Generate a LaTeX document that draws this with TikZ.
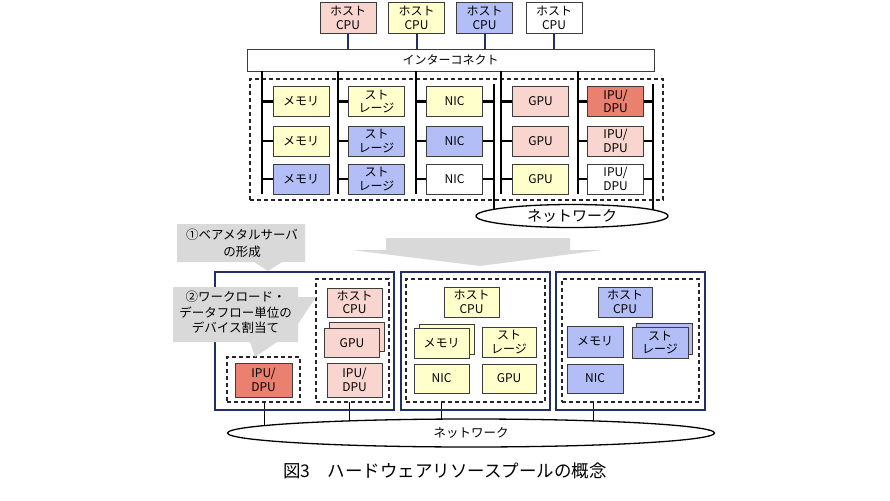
\documentclass[tikz,border=0pt]{standalone}
\usepackage{fontspec}
\setmainfont{Noto Sans CJK JP}
\usetikzlibrary{shapes.geometric,backgrounds}
\definecolor{cpink}{RGB}{248,213,207}
\definecolor{cyel}{RGB}{255,255,204}
\definecolor{cblue}{RGB}{178,190,245}
\definecolor{csalm}{RGB}{233,128,112}
\definecolor{cnavy}{RGB}{32,48,100}
\definecolor{cgray}{RGB}{217,217,217}
\definecolor{cbord}{RGB}{60,60,60}
\newcommand\lbl{\fontsize{12}{13.5}\selectfont}
\begin{document}
\begin{tikzpicture}[x=1pt,y=-1pt,
  box/.style={draw=cbord,line width=0.9pt,minimum width=56pt,minimum height=30pt,inner sep=0pt,align=center,font=\lbl},
  dashbox/.style={draw=black!85,line width=1.2pt,dash pattern=on 4pt off 3pt,inner sep=0pt},
  srv/.style={draw=cnavy,line width=1.1pt,inner sep=0pt},
  busline/.style={line width=2.4pt,black},
  cpuline/.style={line width=2pt,cnavy},
  netline/.style={line width=0.8pt,black},
  net/.style={ellipse,draw=black,line width=1.3pt,fill=white,inner sep=0pt},
  callout/.style={fill=cgray},
  calltext/.style={align=center,inner sep=0pt}]
\useasboundingbox (0,0) rectangle (890,500);

% ---------- top: host CPUs and interconnect ----------
\node[box,fill=cpink,minimum height=31pt] (c1) at (348,18) {ホスト\\CPU};
\node[box,fill=cyel,minimum height=31pt] (c2) at (416.5,18) {ホスト\\CPU};
\node[box,fill=cblue,minimum height=31pt] (c3) at (484.5,18) {ホスト\\CPU};
\node[box,fill=white,minimum height=31pt] (c4) at (554,18) {ホスト\\CPU};
\node[box,fill=white,minimum width=407pt,minimum height=22pt] (ic) at (450.5,60) {インターコネクト};
\foreach \i in {1,2,3,4} \draw[cpuline] (c\i.south) -- (c\i.south |- ic.north);

% ---------- resource pool ----------
\node[dashbox,minimum width=413pt,minimum height=121pt] (pool) at (456.5,139.5) {};

\node[box,fill=cyel]  (g11) at (301,101.5)   {メモリ};
\node[box,fill=cyel]  (g12) at (376.5,101.5) {スト\\レージ};
\node[box,fill=cyel]  (g13) at (454.5,101.5) {NIC};
\node[box,fill=cpink] (g14) at (540.5,101.5) {GPU};
\node[box,fill=csalm] (g15) at (615.5,101.5) {IPU/\\DPU};

\node[box,fill=cyel]  (g21) at (301,141)   {メモリ};
\node[box,fill=cblue] (g22) at (376.5,141) {スト\\レージ};
\node[box,fill=cblue] (g23) at (454.5,141) {NIC};
\node[box,fill=cpink] (g24) at (540.5,141) {GPU};
\node[box,fill=cpink] (g25) at (615.5,141) {IPU/\\DPU};

\node[box,fill=cblue] (g31) at (301,179)   {メモリ};
\node[box,fill=cblue] (g32) at (376.5,179) {スト\\レージ};
\node[box,fill=white] (g33) at (454.5,179) {NIC};
\node[box,fill=cyel]  (g34) at (540.5,179) {GPU};
\node[box,fill=white] (g35) at (615.5,179) {IPU/\\DPU};

\foreach \x/\c in {262/1,338/2,416/3,501/4,578/5} {
  \coordinate (bus\c) at (\x,194);
  \draw[busline] (ic.south -| bus\c) -- (bus\c);
  \foreach \r in {1,2,3} \draw[busline] (g\r\c.west -| bus\c) -- (g\r\c.west);
}

\node[net,minimum width=192pt,minimum height=23pt,font=\fontsize{15}{15}\selectfont] (net1) at (572,216) {ネットワーク};
\coordinate (ra) at (494,84);
\coordinate (rb) at (653,84);
\begin{pgfonlayer}{background}
  \draw[busline] (ra) -- (ra |- net1.center);
  \draw[busline] (rb) -- (rb |- net1.center);
\end{pgfonlayer}
\foreach \r in {1,2,3} {
  \draw[busline] (g\r3.east) -- (g\r3.east -| ra);
  \draw[busline] (g\r5.east) -- (g\r5.east -| rb);
}

% ---------- big arrow ----------
\fill[cgray] (386,238) -- (570,238) -- (570,250) -- (602,250) -- (480,266) -- (352,250) -- (386,250) -- cycle;

% ---------- bottom: servers ----------
\node[srv,minimum width=179pt,minimum height=138pt] (s1) at (304.5,341) {};
\node[srv,minimum width=149pt,minimum height=138pt] (s2) at (475.5,341) {};
\node[srv,minimum width=149pt,minimum height=138pt] (s3) at (630.5,341) {};

\node[dashbox,minimum width=73pt,minimum height=45pt] (d1a) at (263.5,379.5) {};
\node[dashbox,minimum width=73pt,minimum height=123pt] (d1b) at (352.5,340.5) {};
\node[dashbox,minimum width=139pt,minimum height=123pt] (d2) at (475.5,340.5) {};
\node[dashbox,minimum width=137pt,minimum height=123pt] (d3) at (630.5,340.5) {};

% server 1
\node[box,fill=csalm,minimum width=57pt,minimum height=34pt] (ipu1) at (263.5,380) {IPU/\\DPU};
\node[box,fill=cpink,minimum width=55pt,minimum height=29pt] (cpu1) at (354.5,302.5) {ホスト\\CPU};
\node[box,fill=cpink,minimum width=55pt,minimum height=29pt] (gpu1b) at (357,337) {};
\node[box,fill=cpink,minimum width=55pt,minimum height=29pt] (gpu1) at (352,343) {GPU};
\node[box,fill=cpink,minimum width=55pt,minimum height=34pt] (ipu2) at (354.5,380) {IPU/\\DPU};

% server 2
\node[box,fill=cyel,minimum width=55pt] (cpu2) at (471.5,302) {ホスト\\CPU};
\node[box,fill=cyel,minimum width=55pt] (mem2b) at (446.5,339) {};
\node[box,fill=cyel,minimum width=55pt] (mem2) at (441.5,343) {メモリ};
\node[box,fill=cyel,minimum width=54pt] (sto2) at (509,342) {スト\\レージ};
\node[box,fill=cyel,minimum width=55pt,minimum height=29pt] (nic2) at (441.5,378.5) {NIC};
\node[box,fill=cyel,minimum width=54pt,minimum height=29pt] (gpu2) at (509,378.5) {GPU};

% server 3
\node[box,fill=cblue,minimum width=54pt] (cpu3) at (625,302) {ホスト\\CPU};
\node[box,fill=cblue,minimum width=56pt,minimum height=31pt] (mem3) at (595,341.5) {メモリ};
\node[box,fill=cblue,minimum width=56pt,minimum height=31pt] (sto3b) at (664,338.5) {};
\node[box,fill=cblue,minimum width=56pt,minimum height=31pt] (sto3) at (660,342.5) {スト\\レージ};
\node[box,fill=cblue,minimum width=56pt,minimum height=29pt] (nic3) at (595,378.5) {NIC};

% bottom network
\node[net,minimum width=487pt,minimum height=28pt,font=\fontsize{12.5}{12.5}\selectfont] (net2) at (471,433) {ネットワーク};
\coordinate (l1) at (264,402);
\coordinate (l2) at (349,402);
\coordinate (l3) at (441,402);
\coordinate (l4) at (593,402);
\begin{pgfonlayer}{background}
  \foreach \i in {1,2,3,4} \draw[netline] (l\i) -- (l\i |- net2.center);
\end{pgfonlayer}

% ---------- callouts ----------
\fill[callout] (177,224) -- (305,224) -- (305,262) -- (282,262) -- (268,271) -- (254,262) -- (177,262) -- cycle;
\node[calltext,font=\fontsize{12.5}{17}\selectfont] (t1) at (242,243.5) {①ベアメタルサーバ\\の形成};

\fill[callout] (173,287) -- (298,287) -- (298,297) -- (316,297) -- (298,324) -- (298,342) -- (277,342) -- (255,357) -- (250,342) -- (173,342) -- cycle;
\node[calltext,font=\fontsize{12.5}{15.5}\selectfont] (t2) at (235.5,312.5) {②ワークロード・\\データフロー単位の\\デバイス割当て};

% ---------- caption ----------
\node[font=\fontsize{17.5}{20}\selectfont,inner sep=0pt] (cap) at (445,471) {図3　ハードウェアリソースプールの概念};
\end{tikzpicture}
\end{document}
